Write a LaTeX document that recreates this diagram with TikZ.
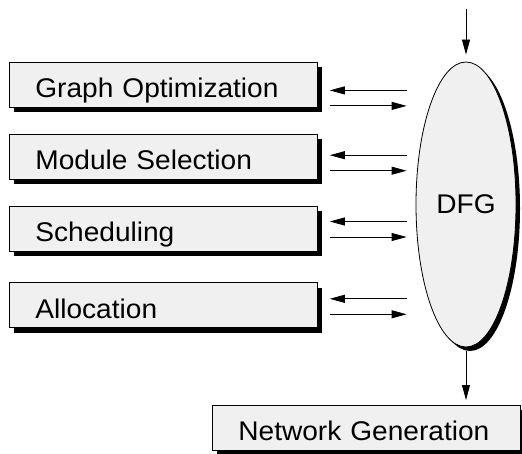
\documentclass[tikz,border=0pt]{standalone}
\usepackage{fontspec}
\setmainfont{Liberation Sans}[FakeStretch=1.04]
\usetikzlibrary{positioning}
\usetikzlibrary{calc}
\usetikzlibrary{shadows}
\usetikzlibrary{shapes.geometric}
\usetikzlibrary{arrows.meta}
\definecolor{boxfill}{gray}{0.94}
\tikzset{>={Triangle[length=15pt,width=8pt]}}
\tikzset{task/.style={draw, fill=boxfill, line width=0.8pt, anchor=north west, inner xsep=26pt, inner ysep=0pt, text width=256pt, align=left, text height=35.5pt, text depth=9.5pt, drop shadow={shadow xshift=5pt, shadow yshift=-5pt, fill=black, opacity=1}, font=\fontsize{27}{31}\selectfont}}
\tikzset{store/.style={ellipse, draw, fill=boxfill, line width=0.8pt, minimum width=100pt, minimum height=285pt, inner sep=0pt, drop shadow={shadow xshift=4pt, shadow yshift=-4pt, fill=black, opacity=1}, font=\fontsize{27}{31}\selectfont}}
\tikzset{flow/.style={->, line width=0.8pt}}

\begin{document}
\begin{tikzpicture}[x=1pt,y=-1pt]
\useasboundingbox (0,0) rectangle (522,454);
\node[task] (graph) at (9,62) {Graph Optimization};
\node[task, below=26pt of graph] (module) {Module Selection};
\node[task, below=26pt of module] (sched) {Scheduling};
\node[task, below=31pt of sched] (alloc) {Allocation};
\node[store] (dfg) at (466,204.5) {DFG};
\node[task] (net) at (212,405) {Network Generation};

\coordinate (in) at (466,9);
\draw[flow] (in) -- ([yshift=7pt]dfg.north);
\draw[flow] ([yshift=-4pt]dfg.south) -- ($(dfg.south |- net.north)+(0,-5)$);

\foreach \b/\dy in {graph/5.5, module/-1.5, sched/-7, alloc/-6.5}{
  \draw[flow] ($(dfg.west |- \b.east)+(-9,\dy)$) -- ($(\b.east)+(12,\dy)$);
  \draw[flow] ($(\b.east)+(12,\dy+15.5)$) -- ($(dfg.west |- \b.east)+(-9,\dy+15.5)$);
}
\end{tikzpicture}
\end{document}
